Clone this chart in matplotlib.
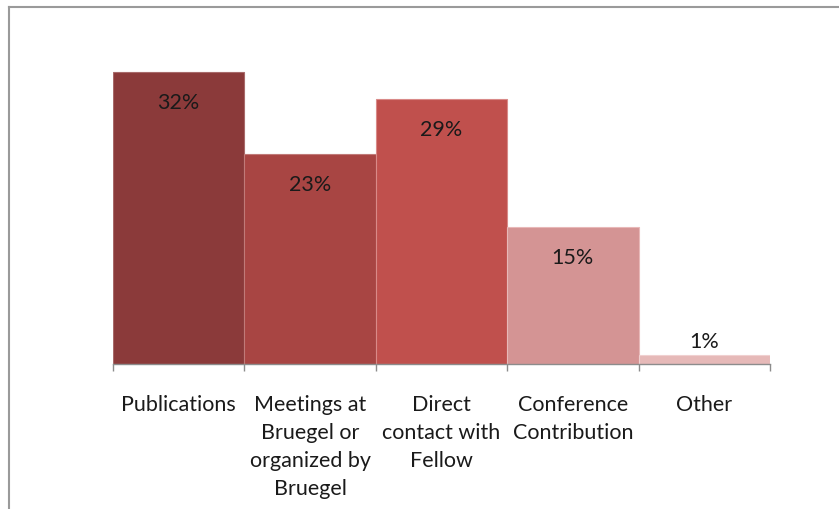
import matplotlib.pyplot as plt
from matplotlib.lines import Line2D

categories = ["Publications", "Meetings at\nBruegel or\norganized by\nBruegel",
              "Direct\ncontact with\nFellow", "Conference\nContribution", "Other"]
values = [32, 23, 29, 15, 1]
colors = ["#8b3a3a", "#a84543", "#c0504d", "#d49494", "#e6b9b8"]
edges = ["#a86a6a", "#c07a78", "#d98a88", "#e8b8b8", "#f0d0d0"]

plt.rcParams['font.family'] = ['Lato', 'DejaVu Sans']

W, H = 839, 509
fig = plt.figure(figsize=(W / 100, H / 100), dpi=100)
ax = fig.add_axes([113 / W, 1 - 364 / H, (770 - 113) / W, (364 - 44.6) / H])

x = list(range(len(values)))
ax.bar(x, values, width=1.0, color=colors, edgecolor=edges, linewidth=0.8)
ax.set_xlim(-0.5, len(values) - 0.5)
ax.set_ylim(0, 35)

for xi, v in zip(x, values):
    if v >= 5:
        ax.annotate(f"{v}%", (xi, v), xytext=(0, -22), textcoords="offset points",
                    ha="center", va="center", fontsize=15.5, color="#1a1a1a")
    else:
        ax.annotate(f"{v}%", (xi, v), xytext=(0, 9.5), textcoords="offset points",
                    ha="center", va="center", fontsize=15.5, color="#1a1a1a")

# ticks at bar boundaries, labels at bar centres
ax.set_xticks([i - 0.5 for i in range(len(values) + 1)])
ax.set_xticklabels([])
ax.tick_params(axis="x", which="major", length=5, color="#8c8c8c", width=1)
ax.set_xticks(x, minor=True)
ax.set_xticklabels(categories, minor=True, fontsize=15.5, linespacing=1.5)
ax.tick_params(axis="x", which="minor", length=0, pad=22, colors="#1a1a1a")

ax.set_yticks([])
for s in ["top", "right", "left"]:
    ax.spines[s].set_visible(False)
ax.spines["bottom"].set_color("#8c8c8c")
ax.spines["bottom"].set_linewidth(1)

# outer frame (top and left edges only visible)
fig.add_artist(Line2D([8.5 / W, 8.5 / W], [0, 1 - 6.5 / H], transform=fig.transFigure,
                      color="#9a9a9a", lw=1.5))
fig.add_artist(Line2D([8.5 / W, 1], [1 - 6.5 / H, 1 - 6.5 / H], transform=fig.transFigure,
                      color="#9a9a9a", lw=1.5))

fig.savefig("out.png", dpi=100)
